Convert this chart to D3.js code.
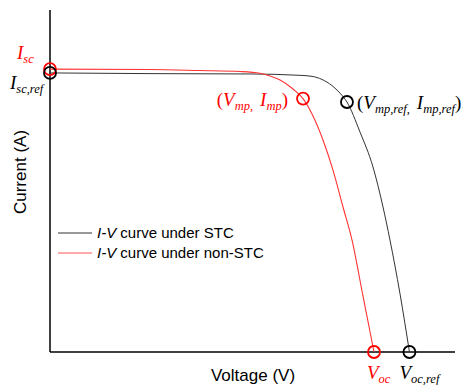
<!DOCTYPE html>
<html>
<head>
<meta charset="utf-8">
<script src="https://cdn.jsdelivr.net/npm/d3@7"></script>
<style>
  body { margin: 0; background: #fff; }
  svg { display: block; }
</style>
</head>
<body>
<div id="chart"></div>
<script>
// I-V curve under STC (voltage V, current A, arbitrary units)
var stcVoltage = [0, 9.88, 19.75, 24.69, 25.88, 26.86, 27.85, 28.64, 29.33, 30.62, 31.90, 32.89, 33.58, 34.57, 35.50];
var stcCurrent = [8.16, 8.14, 8.13, 8.09, 8.06, 7.97, 7.79, 7.57, 7.31, 6.43, 5.41, 4.24, 3.27, 1.70, 0];

// I-V curve under non-STC
var nonVoltage = [0, 9.88, 14.81, 18.77, 20.74, 21.73, 22.72, 24.00, 24.99, 25.88, 26.96, 27.95, 28.94, 29.83, 30.91, 32.00];
var nonCurrent = [8.27, 8.26, 8.23, 8.20, 8.15, 8.07, 7.95, 7.69, 7.41, 6.96, 6.20, 5.32, 4.24, 3.27, 1.64, 0];

// marked points: short circuit, max power, open circuit
var stcMarks = [[0, 8.16], [29.33, 7.31], [35.50, 0]];
var nonMarks = [[0, 8.27], [24.99, 7.41], [32.00, 0]];

var legendLabels = ["curve under STC", "curve under non-STC"];

var width = 464, height = 385;
var margin = {left: 50, right: 9, top: 10, bottom: 33};

var svg = d3.select("#chart").append("svg")
    .attr("width", width)
    .attr("height", height);

var x = d3.scaleLinear().domain([0, 40]).range([margin.left, width - margin.right]);
var y = d3.scaleLinear().domain([0, 10]).range([height - margin.bottom, margin.top]);

// axes (no ticks)
svg.append("line")
    .attr("x1", x(0)).attr("x2", x(0))
    .attr("y1", y(10)).attr("y2", y(0))
    .attr("stroke", "#000").attr("stroke-width", 1.5);
svg.append("line")
    .attr("x1", x(0)).attr("x2", x(40))
    .attr("y1", y(0)).attr("y2", y(0))
    .attr("stroke", "#000").attr("stroke-width", 1.5);

var line = d3.line()
    .x(function(d) { return x(d[0]); })
    .y(function(d) { return y(d[1]); })
    .curve(d3.curveMonotoneX);

svg.append("path")
    .datum(d3.zip(stcVoltage, stcCurrent))
    .attr("d", line)
    .attr("fill", "none")
    .attr("stroke", "#333")
    .attr("stroke-width", 1);

svg.append("path")
    .datum(d3.zip(nonVoltage, nonCurrent))
    .attr("d", line)
    .attr("fill", "none")
    .attr("stroke", "#f33")
    .attr("stroke-width", 1.1);

// circles
function marks(data, color) {
    svg.selectAll(null)
        .data(data)
        .enter().append("circle")
        .attr("cx", function(d) { return x(d[0]); })
        .attr("cy", function(d) { return y(d[1]); })
        .attr("r", 6)
        .attr("fill", "none")
        .attr("stroke", color)
        .attr("stroke-width", 1.8);
}
marks(nonMarks, "#f00");
marks(stcMarks, "#000");

// axis titles
svg.append("text")
    .attr("x", 253).attr("y", 381)
    .attr("text-anchor", "middle")
    .style("font-family", "Liberation Sans, Arial, sans-serif")
    .style("font-size", "17px")
    .text("Voltage (V)");

svg.append("text")
    .attr("transform", "translate(26," + 172 + ") rotate(-90)")
    .attr("text-anchor", "middle")
    .style("font-family", "Liberation Sans, Arial, sans-serif")
    .style("font-size", "17px")
    .text("Current (A)");

// italic math labels: parts = [[text, isSub, upright, dx], ...]
function mathLabel(px, py, parts, color, anchor) {
    var t = svg.append("text")
        .attr("x", px).attr("y", py)
        .attr("fill", color)
        .attr("text-anchor", anchor || "start")
        .style("font-family", "Liberation Serif, Times New Roman, serif")
        .style("font-style", "italic")
        .style("font-size", "19px");
    var shifted = false;
    parts.forEach(function(p) {
        var s = t.append("tspan").text(p[0]);
        if (p[1]) {
            s.style("font-size", "12.5px");
            if (!shifted) { s.attr("dy", 4); shifted = true; }
        } else if (shifted) {
            s.attr("dy", -4); shifted = false;
        }
        if (p[2]) s.style("font-style", "normal");
        if (p[3]) s.attr("dx", p[3]);
    });
}

var sx = function(v) { return x(v); }, sy = function(v) { return y(v); };

mathLabel(sx(0) - 33, sy(8.27) - 10, [["I"], ["sc", true]], "#f00");
mathLabel(sx(0) - 40, sy(8.16) + 16, [["I"], ["sc,ref", true]], "#000");
mathLabel(sx(24.99) - 15, sy(7.41) + 7, [["(", false, true], ["V"], ["mp", true], [",", true], ["I", false, false, 7], ["mp", true], [")", false, true]], "#f00", "end");
mathLabel(sx(29.33) + 10, sy(7.31) + 7, [["(", false, true], ["V"], ["mp,ref", true], [",", true], ["I", false, false, 7], ["mp,ref", true], [")", false, true]], "#000");
mathLabel(sx(32.00) - 7, 379, [["V"], ["oc", true]], "#f00");
mathLabel(sx(35.50) - 10, 379, [["V"], ["oc,ref", true]], "#000");

// legend
var legendColors = ["#333", "#f55"];
var legend = svg.selectAll(".legend")
    .data(legendLabels)
    .enter().append("g")
    .attr("class", "legend")
    .attr("transform", function(d, i) { return "translate(58," + (233 + i * 20) + ")"; });

legend.append("line")
    .attr("x1", 0).attr("x2", 34)
    .attr("stroke", function(d, i) { return legendColors[i]; })
    .attr("stroke-width", 1);

var lt = legend.append("text")
    .attr("x", 39).attr("y", 5)
    .style("font-family", "Liberation Sans, Arial, sans-serif")
    .style("font-size", "15px");
lt.append("tspan").style("font-style", "italic").text("I-V");
lt.append("tspan").text(function(d) { return " " + d; });
</script>
</body>
</html>
